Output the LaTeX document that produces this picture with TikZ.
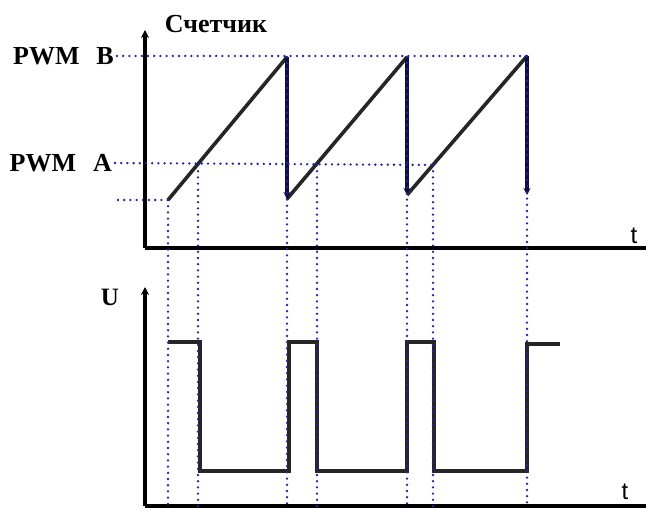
\documentclass[tikz,border=0pt]{standalone}
\usepackage{fontspec}
\setmainfont{Liberation Serif}
\newfontfamily\sansf{Liberation Sans}
\usetikzlibrary{arrows.meta}
\definecolor{dotblue}{RGB}{35,35,160}
\begin{document}
\begin{tikzpicture}[x=1pt, y=-1pt,
    axis/.style={line width=4pt, -{Stealth[length=8pt,width=8pt]}},
    wave/.style={line width=3.6pt, black!85},
    drop/.style={line width=3.6pt, black!60!dotblue, -{Stealth[length=7pt,width=7pt]}},
    guide/.style={line width=2.6pt, dotblue, dash pattern=on 0pt off 6.2pt, line cap=round},
    lbl/.style={font=\bfseries\fontsize{26}{28}\selectfont, inner sep=3pt}]
    \useasboundingbox (0,0) rectangle (646,508);

    % Ejes
    \coordinate (O1) at (145,248);
    \coordinate (Y1) at (145,30);
    \coordinate (X1) at (646,248);
    \coordinate (O2) at (145,506);
    \coordinate (Y2) at (145,287);
    \coordinate (X2) at (646,506);
    \draw[axis] (O1) -- (Y1);
    \draw[line width=4pt] (O1) -- (X1);
    \draw[axis] (O2) -- (Y2);
    \draw[line width=4pt] (O2) -- (X2);

    % Textos
    \node[lbl] (cnt) at (216,24) {Счетчик};
    \node[lbl, anchor=east] (pwmB) at (117,56) {PWM\hspace{0.4em} B};
    \node[lbl, anchor=east] (pwmA) at (115,163) {PWM\hspace{0.4em} A};
    \node[font=\sansf\fontsize{24}{26}\selectfont] (t1) at (634,236) {t};
    \node[font=\bfseries\fontsize{25}{27}\selectfont] (U) at (110,297) {U};
    \node[font=\sansf\fontsize{24}{26}\selectfont] (t2) at (625,492) {t};

    % Diente de sierra
    \coordinate (L0) at (118,200);
    \coordinate (s0) at (168,200);
    \coordinate (p1) at (287,57);
    \coordinate (b1) at (287,199);
    \coordinate (p2) at (407,57);
    \coordinate (b2) at (407,195);
    \coordinate (p3) at (527,56);
    \coordinate (b3) at (527,195);
    \coordinate (a1) at (198,165);
    \coordinate (a2) at (317,165);
    \coordinate (a3) at (433,165);
    \draw[wave] (s0) -- (p1);
    \draw[wave] (b1) -- (p2);
    \draw[wave] (b2) -- (p3);
    \draw[drop] (p1) -- (b1);
    \draw[drop] (p2) -- (b2);
    \draw[drop] (p3) -- (b3);

    % Salida PWM
    \coordinate (hi) at (0,342);
    \coordinate (lo) at (0,471);
    \draw[wave] (s0|-hi) -- ([xshift=2pt]a1|-hi) -- ([xshift=2pt]a1|-lo) -- ([xshift=2pt]p1|-lo)
        -- ([xshift=2pt]p1|-hi) -- (a2|-hi) -- (a2|-lo) -- (p2|-lo) -- (p2|-hi)
        -- ([xshift=1pt]a3|-hi) -- ([xshift=1pt]a3|-lo) -- (p3|-lo) -- ([yshift=-2pt]p3|-hi) -- ++(33,0);

    % Lineas de puntos
    \draw[guide] (pwmB.east) -- (p3);
    \draw[guide] (pwmA.east) -- (a3);
    \draw[guide] (L0) -- (s0);
    \foreach \p in {s0,a1,p1,a2,p2,a3,p3}
        \draw[guide] (\p) -- (\p|-X2) -- ++(0,3);
\end{tikzpicture}
\end{document}
